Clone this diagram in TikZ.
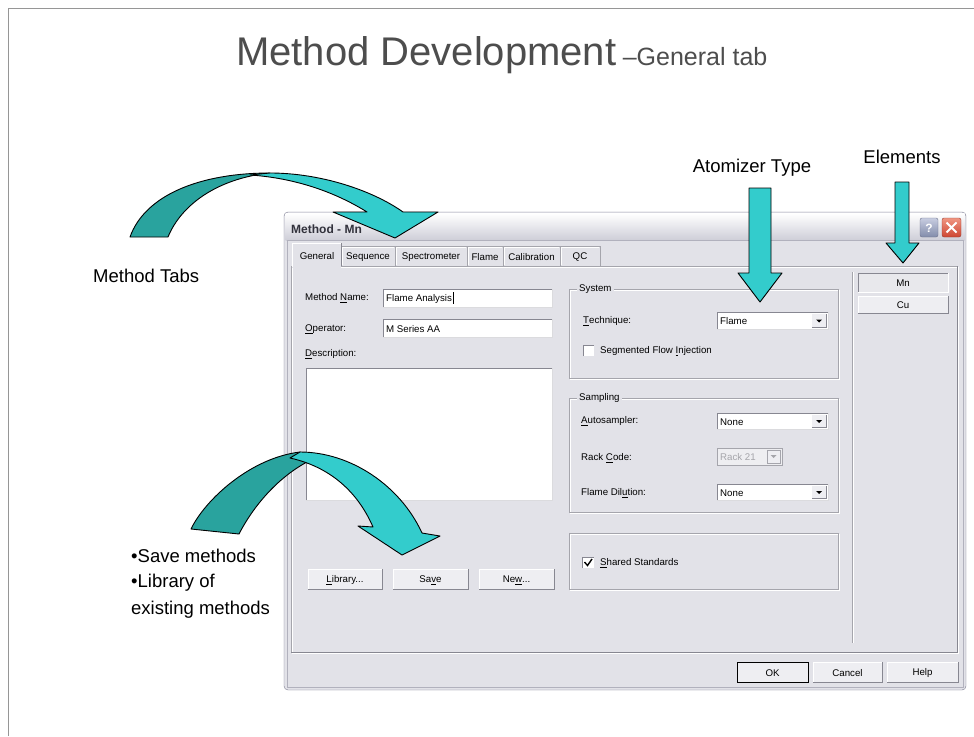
\documentclass[tikz,border=0pt]{standalone}
\usepackage{fontspec}
\setmainfont{Liberation Sans}
\definecolor{cyanA}{RGB}{51,204,204}
\definecolor{tealA}{RGB}{41,163,158}
\definecolor{dlgbg}{RGB}{226,226,232}
\definecolor{frameC}{RGB}{125,125,145}
\definecolor{btnface}{RGB}{238,238,242}
\definecolor{btnshadow}{RGB}{135,135,145}
\definecolor{etchC}{RGB}{165,165,172}
\definecolor{titleC}{RGB}{77,77,77}
\definecolor{slideframe}{RGB}{150,150,150}
\definecolor{disC}{RGB}{165,165,170}
\definecolor{tbarB}{RGB}{206,206,216}
\definecolor{wtitleC}{RGB}{50,50,60}
\definecolor{qTop}{RGB}{200,205,225}
\definecolor{qBot}{RGB}{130,140,170}
\definecolor{qDraw}{RGB}{110,115,140}
\definecolor{xTop}{RGB}{240,150,130}
\definecolor{xBot}{RGB}{205,70,50}
\definecolor{xDraw}{RGB}{150,60,50}
\definecolor{mnC}{RGB}{232,232,236}
\newcommand\acc[1]{\underline{#1}}
\newcommand\Btn[6]{%
  \fill[btnface] (#2,#3) rectangle (#4,#5);
  \draw[white] (#2,#5) -- (#2,#3) -- (#4,#3);
  \draw[btnshadow] (#2,#5) -- (#4,#5) -- (#4,#3);
  \node[dlg] (#1) at ({(#2+#4)/2},{(#3+#5)/2+1}) {#6};
}
\newcommand\Combo[6]{%
  \fill[white] (#2,#3) rectangle (#4,#5);
  \draw[btnshadow] (#2,#5) -- (#2,#3) -- (#4,#3);
  \draw[etchC!40] (#2,#5) -- (#4,#5) -- (#4,#3);
  \node[dlg, anchor=west] (#1) at ({#2+3},{(#3+#5)/2+1}) {#6};
  \fill[btnface] ({#4-16},{#3+2}) rectangle ({#4-2},{#5-2});
  \draw[btnshadow] ({#4-16},{#5-2}) -- ({#4-2},{#5-2}) -- ({#4-2},{#3+2});
  \fill[black] ({#4-12},{(#3+#5)/2-1}) -- ({#4-6},{(#3+#5)/2-1}) -- ({#4-9},{(#3+#5)/2+2}) -- cycle;
}
\newcommand\Field[6]{%
  \fill[white] (#2,#3) rectangle (#4,#5);
  \draw[btnshadow] (#2,#5) -- (#2,#3) -- (#4,#3);
  \draw[etchC!40] (#2,#5) -- (#4,#5) -- (#4,#3);
  \node[dlg, anchor=west] (#1) at ({#2+3},{(#3+#5)/2+1}) {#6};
}
\newcommand\Group[6]{%
  \draw[white] ({#2+1},{#3+1}) rectangle ({#4+1},{#5+1});
  \draw[etchC] (#2,#3) rectangle (#4,#5);
  \node[dlg, anchor=west, fill=dlgbg, inner xsep=2pt] (#1) at ({#2+8},#3) {#6};
}
\tikzset{
  lbl/.style={font=\fontsize{18.5}{22}\selectfont, inner sep=0pt, text=black},
  dlg/.style={font=\fontsize{9.7}{11}\selectfont, inner sep=0pt, text=black},
  arrowlight/.style={fill=cyanA, draw=black, line width=0.9pt, line join=round},
  arrowdark/.style={fill=tealA, draw=black, line width=0.9pt, line join=round},
  tabshape/.style={draw=etchC, fill=dlgbg},
}
\begin{document}
\begin{tikzpicture}[x=1pt,y=-1pt]
\useasboundingbox (0,0) rectangle (974,736);
\fill[white] (0,0) rectangle (974,736);
\draw[slideframe, line width=0.8pt] (8.5,736) -- (8.5,8.5) -- (974,8.5);

% title
\node[anchor=base west, inner sep=0pt, text=titleC, font=\fontsize{40}{44}\selectfont] (title) at (236,65) {Method Development};
\node[anchor=base west, inner sep=0pt, text=titleC, font=\fontsize{25}{28}\selectfont] (subtitle) at ([xshift=6pt]title.base east) {–General tab};

% labels
\node[lbl, anchor=base] (atomlbl) at (752,172) {Atomizer Type};
\node[lbl, anchor=base] (elemlbl) at (902,163) {Elements};
\node[lbl, anchor=base west] (tabslbl) at (93,282) {Method Tabs};
\node[lbl, anchor=base west] (save1) at (131,562) {•Save methods};
\node[lbl, anchor=base west] (save2) at (131,587) {•Library of};
\node[lbl, anchor=base west] (save3) at (131,614) {existing methods};

% dialog window
\draw[frameC, fill=dlgbg, rounded corners=4] (284,212) rectangle (966,690);
\shade[top color=white, bottom color=tbarB] (285.5,213.5) rectangle (964.5,240);
\draw[frameC!60] (287,240) rectangle (963,687);
\node[anchor=west, inner sep=0pt, font=\fontsize{12}{14}\selectfont\bfseries, text=wtitleC] (wtitle) at (291,229) {Method - Mn};
% help / close buttons
\shade[rounded corners=2, top color=qTop, bottom color=qBot, draw=qDraw] (920,218) rectangle (938,237);
\node[inner sep=0pt, text=white, font=\fontsize{12}{14}\selectfont\bfseries] (helpq) at (929,228) {?};
\shade[rounded corners=2, top color=xTop, bottom color=xBot, draw=xDraw] (942,218) rectangle (961,237);
\draw[white, line width=2pt] (946.5,222.5) -- (956.5,232.5) (956.5,222.5) -- (946.5,232.5);

% tab panel
\draw[white] (292,267) rectangle (958,653);
\draw[etchC] (291,266) rectangle (957,652);
\draw[btnshadow] (291,652) -- (957,652) -- (957,266);
% inactive tabs
\draw[tabshape] (341,266) -- (341,246) -- (395,246) -- (395,266);
\draw[tabshape] (395,266) -- (395,246) -- (467,246) -- (467,266);
\draw[tabshape] (467,266) -- (467,246) -- (503,246) -- (503,266);
\draw[tabshape] (503,266) -- (503,246) -- (560,246) -- (560,266);
\draw[tabshape] (560,266) -- (560,246) -- (600,246) -- (600,266);
\draw[white] (342,265) -- (342,247) -- (394,247);
\draw[white] (396,265) -- (396,247) -- (466,247);
\draw[white] (468,265) -- (468,247) -- (502,247);
\draw[white] (504,265) -- (504,247) -- (559,247);
\draw[white] (561,265) -- (561,247) -- (599,247);
% active tab
\fill[dlgbg] (292,243) rectangle (341,267.5);
\draw[white] (292,267) -- (292,243) -- (341,243);
\draw[btnshadow] (341,243) -- (341,266);
\node[dlg] (tgen) at (317,256) {General};
\node[dlg] (tseq) at (368,257) {Sequence};
\node[dlg] (tspe) at (431,257) {Spectrometer};
\node[dlg] (tfla) at (485,257) {Flame};
\node[dlg] (tcal) at (531.5,257) {Calibration};
\node[dlg] (tqc) at (580,257) {QC};

% left column
\node[dlg, anchor=west] (lname) at (305,298) {Method \acc{N}ame:};
\Field{fname}{383}{289}{552}{307}{Flame Analysis}
\draw[black] ([xshift=1pt]fname.east |- 0,292) -- ([xshift=1pt]fname.east |- 0,304);
\node[dlg, anchor=west] (lop) at (305,329) {\acc{O}perator:};
\Field{fop}{383}{319}{552}{337}{M Series AA}
\node[dlg, anchor=west] (ldesc) at (305,354) {\acc{D}escription:};
\Field{fdesc}{306}{368}{552}{500}{}
\Btn{blib}{308}{569}{382}{589}{\acc{L}ibrary...}
\Btn{bsave}{393}{569}{468}{589}{Sa\acc{v}e}
\Btn{bnew}{479}{569}{554}{589}{Ne\acc{w}...}

% system group
\Group{gsys}{569}{289}{838}{378}{System}
\node[dlg, anchor=west] (ltech) at (583,321) {\acc{T}echnique:};
\Combo{ctech}{717}{312}{828}{329}{Flame}
\fill[white] (583,345) rectangle (594,356);
\draw[btnshadow] (583,356) -- (583,345) -- (594,345);
\node[dlg, anchor=west] (lseg) at (600,351) {Segmented Flow \acc{I}njection};

% sampling group
\Group{gsamp}{569}{398}{838}{512}{Sampling}
\node[dlg, anchor=west] (lauto) at (581,421) {\acc{A}utosampler:};
\Combo{cauto}{717}{413}{828}{429}{None}
\node[dlg, anchor=west] (lrack) at (581,458) {Rack \acc{C}ode:};
\fill[dlgbg!60!white] (717,448) rectangle (782,465);
\draw[etchC] (717,448) rectangle (782,465);
\node[dlg, anchor=west, text=disC] (crack) at (720,457) {Rack 21};
\fill[btnface] (767,450) rectangle (780,463);
\draw[etchC] (767,450) rectangle (780,463);
\fill[disC] (770.5,455) -- (776.5,455) -- (773.5,458) -- cycle;
\node[dlg, anchor=west] (lfd) at (581,493) {Flame Dil\acc{u}tion:};
\Combo{cfd}{717}{484}{828}{500}{None}

% shared standards group
\draw[white] (570,534) rectangle (839,590);
\draw[etchC] (569,533) rectangle (838,589);
\fill[white] (582,557) rectangle (594,568);
\draw[btnshadow] (582,568) -- (582,557) -- (594,557);
\draw[black, line width=1.4pt] (584.5,562) -- (587.5,565.5) -- (592,559);
\node[dlg, anchor=west] (lshared) at (600,563) {\acc{S}hared Standards};

% elements area
\draw[etchC] (852,272) -- (852,643);
\draw[white] (853,272) -- (853,643);
\fill[mnC] (858,273) rectangle (948,292);
\draw[btnshadow] (858,292) -- (858,273) -- (948,273);
\draw[white] (858,292) -- (948,292) -- (948,273);
\node[dlg] (emn) at (903,283) {Mn};
\Btn{ecu}{858}{296}{948}{313}{Cu}

% bottom buttons
\Btn{bok}{737}{662}{808}{682}{OK}
\draw[black] (737,662) rectangle (808,682);
\Btn{bcancel}{813}{662}{882}{682}{Cancel}
\Btn{bhelp}{887}{662}{958}{682}{Help}

% straight arrows
\draw[arrowlight] (749,188) -- (771,188) -- (771,273) -- (782,273) -- (760,302) -- (738,273) -- (749,273) -- cycle;
\draw[arrowlight] (895,182) -- (909,182) -- (909,243) -- (919,243) -- (903,263) -- (886,243) -- (895,243) -- cycle;

% curved arrow (method tabs)
\draw[arrowdark] (130,237) .. controls (145,195) and (200,173) .. (270,173) .. controls (220,178) and (182,203) .. (168,237) -- cycle;
\draw[arrowlight] (270,173) .. controls (320,173) and (372,190) .. (403,212) -- (438,212) -- (395,238) -- (333,212) -- (367,212) .. controls (335,192) and (295,178) .. (250,175) -- cycle;

% curved arrow (save / library)
\draw[arrowdark] (191,529) .. controls (205,500) and (250,458) .. (300,452) -- (315,458) .. controls (282,473) and (255,503) .. (239,534) -- cycle;
\draw[arrowlight] (300,452) .. controls (350,452) and (400,485) .. (422,533) -- (440,536) -- (402,555) -- (358,526) -- (373,527) .. controls (360,497) and (335,468) .. (290,458) -- cycle;
\end{tikzpicture}
\end{document}
